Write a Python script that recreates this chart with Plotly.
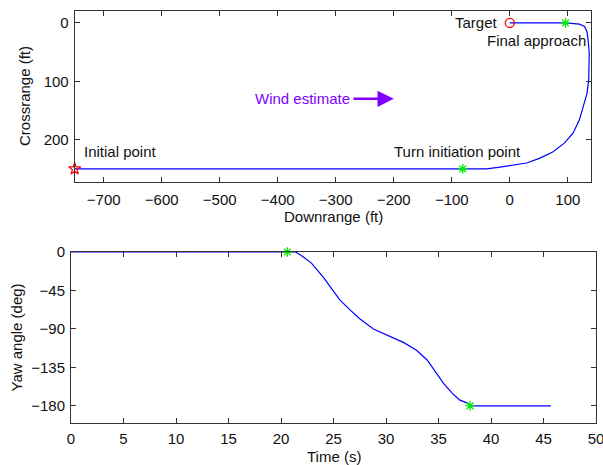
import plotly.graph_objects as go

# ---------------- data ----------------
# Top: trajectory (downrange / crossrange, ft)
path_x = [-750, -40, -17, 6, 29, 51, 74, 94, 109, 120, 127, 133, 136, 137, 137, 135, 133, 129, 120, 96, 50, 0]
path_y = [250, 250, 247, 244, 240, 232, 221, 206, 189, 166, 144, 121, 98, 75, 52, 29, 15, 6, 2, 0, 0, 0]

initial_pt = (-750, 250)
target_pt = (0, 0)
green_x = [-81, 96]
green_y = [250, 0]

top_xticks = [-700, -600, -500, -400, -300, -200, -100, 0, 100]
top_yticks = [0, 100, 200]

# Bottom: yaw angle vs time
time_s = [0, 20.6, 21.4, 22.1, 22.9, 24.0, 24.8, 25.6, 26.6, 27.5, 28.8, 30.1, 31.7,
          32.9, 33.9, 34.7, 35.5, 36.3, 37.0, 37.8, 38.2, 45.7]
yaw_deg = [0, 0, 0, -5.5, -13, -29, -42, -56, -68, -78, -90, -97, -106,
           -115, -126, -140, -154, -165, -173, -177, -180, -180]
yaw_mark_t = [20.6, 38.0]
yaw_mark_y = [0, -180]

bot_xticks = [0, 5, 10, 15, 20, 25, 30, 35, 40, 45, 50]
bot_yticks = [0, -45, -90, -135, -180]

# ---------------- figure ----------------
W, H = 603, 465
FONT = "Liberation Sans, Arial, sans-serif"
FS = 15
AX = "#333333"
BLUE = "#0000FF"
GREEN = "#00EE00"
RED = "#FF0000"
PURPLE = "#8000FF"

def px2fx(p):
    return p / W

def px2fy(p):
    return 1 - p / H

fig = go.Figure()

fig.add_trace(go.Scatter(x=path_x, y=path_y, mode="lines", line=dict(color=BLUE, width=1.2),
                         xaxis="x", yaxis="y", showlegend=False, hoverinfo="skip"))
fig.add_trace(go.Scatter(x=[initial_pt[0]], y=[initial_pt[1]], mode="markers",
                         marker=dict(symbol="star-open", size=9, color=RED, line=dict(width=1.2, color=RED)),
                         xaxis="x", yaxis="y", showlegend=False, cliponaxis=False))
fig.add_trace(go.Scatter(x=[target_pt[0]], y=[target_pt[1]], mode="markers",
                         marker=dict(symbol="circle-open", size=9, color=RED, line=dict(width=1.3, color=RED)),
                         xaxis="x", yaxis="y", showlegend=False, cliponaxis=False))
fig.add_trace(go.Scatter(x=green_x, y=green_y, mode="markers",
                         marker=dict(symbol="asterisk-open", size=8, color=GREEN, line=dict(width=1.3, color=GREEN)),
                         xaxis="x", yaxis="y", showlegend=False, cliponaxis=False))

fig.add_trace(go.Scatter(x=time_s, y=yaw_deg, mode="lines", line=dict(color=BLUE, width=1.2),
                         xaxis="x2", yaxis="y2", showlegend=False, hoverinfo="skip", cliponaxis=False))
fig.add_trace(go.Scatter(x=yaw_mark_t, y=yaw_mark_y, mode="markers",
                         marker=dict(symbol="asterisk-open", size=8, color=GREEN, line=dict(width=1.3, color=GREEN)),
                         xaxis="x2", yaxis="y2", showlegend=False, cliponaxis=False))

axis_common = dict(showgrid=False, zeroline=False, showline=True, linecolor=AX, linewidth=1,
                   mirror="ticks", ticks="inside", ticklen=5, tickcolor=AX, tickwidth=1,
                   tickfont=dict(family=FONT, size=FS, color="#111111"), automargin=False,
                   ticklabeloverflow="allow")

fig.update_layout(
    width=W, height=H,
    margin=dict(l=0, r=0, t=0, b=0),
    paper_bgcolor="white", plot_bgcolor="white",
    xaxis=dict(domain=[px2fx(74.7), px2fx(591)], range=[-750, 140], tickvals=top_xticks,
               anchor="y", ticklabelstandoff=4, **axis_common),
    yaxis=dict(domain=[px2fy(181.7), px2fy(10.7)], range=[272, -21], tickvals=top_yticks,
               anchor="x", ticklabelstandoff=2, **axis_common),
    xaxis2=dict(domain=[px2fx(71), px2fx(596)], range=[0, 50], tickvals=bot_xticks,
                anchor="y2", ticklabelstandoff=2, **axis_common),
    yaxis2=dict(domain=[px2fy(423), px2fy(252)], range=[-200, 0], tickvals=bot_yticks,
                anchor="x2", ticklabelstandoff=2, **axis_common),
)

ann_font = dict(family=FONT, size=FS, color="#111111")
annotations = [
    # axis titles
    dict(text="Downrange (ft)", xref="paper", yref="paper", x=px2fx(333), y=px2fy(216),
         showarrow=False, font=ann_font, xanchor="center", yanchor="middle"),
    dict(text="Crossrange (ft)", xref="paper", yref="paper", x=px2fx(25), y=px2fy(96),
         showarrow=False, font=ann_font, textangle=-90, xanchor="center", yanchor="middle"),
    dict(text="Time (s)", xref="paper", yref="paper", x=px2fx(333.5), y=px2fy(456),
         showarrow=False, font=ann_font, xanchor="center", yanchor="middle"),
    dict(text="Yaw angle (deg)", xref="paper", yref="paper", x=px2fx(16), y=px2fy(337.5),
         showarrow=False, font=ann_font, textangle=-90, xanchor="center", yanchor="middle"),
    # point labels
    dict(text="Initial point", xref="x", yref="y", x=-738, y=221, showarrow=False,
         font=ann_font, xanchor="left", yanchor="middle"),
    dict(text="Turn initiation point", xref="x", yref="y", x=-203, y=221, showarrow=False,
         font=ann_font, xanchor="left", yanchor="middle"),
    dict(text="Target", xref="x", yref="y", x=-17, y=0, showarrow=False,
         font=ann_font, xanchor="right", yanchor="middle"),
    dict(text="Final approach", xref="x", yref="y", x=-43, y=30, showarrow=False,
         font=ann_font, xanchor="left", yanchor="middle"),
    # wind estimate
    dict(text="Wind estimate", xref="x", yref="y", x=-272, y=130, showarrow=False,
         font=dict(family=FONT, size=FS, color=PURPLE), xanchor="right", yanchor="middle"),
    dict(text="", xref="x", yref="y", x=-200, y=130, ax=-272, ay=130, axref="x", ayref="y",
         showarrow=True, arrowhead=2, arrowsize=1.3, arrowwidth=2.5, arrowcolor=PURPLE, standoff=0),
]
fig.update_layout(annotations=annotations)

fig.write_html("out.html")
